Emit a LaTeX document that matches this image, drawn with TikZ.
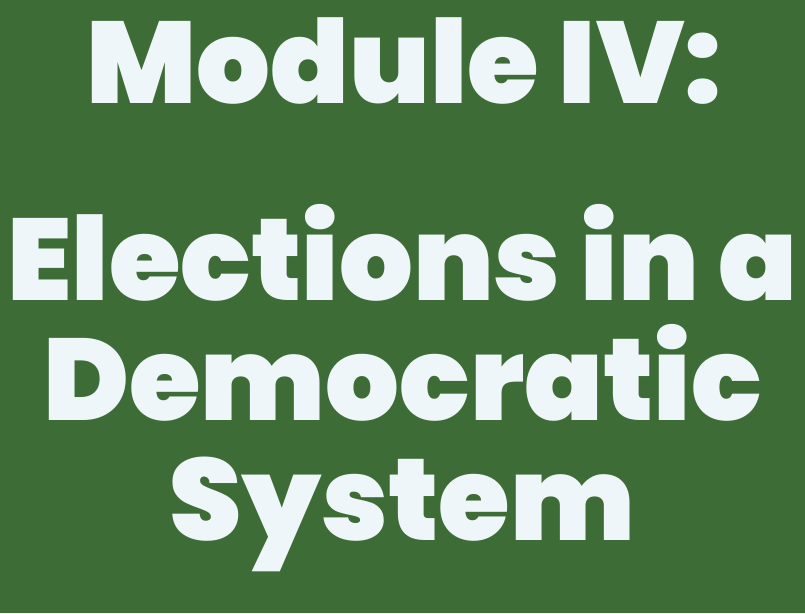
\documentclass[tikz,border=0pt]{standalone}
\usepackage{fontspec}
\setmainfont{Poppins}[UprightFont=* Bold]
\definecolor{bg}{HTML}{3E6C37}
\definecolor{fg}{HTML}{EEF6F9}
\begin{document}
\begin{tikzpicture}[x=1pt,y=-1pt,
  title/.style={anchor=base,text=fg,font=\fontsize{116}{116}\selectfont\bfseries,inner sep=0pt}]
\fill[bg] (0,0) rectangle (805,613);
\useasboundingbox (0,0) rectangle (805,613);
\node[title] (l1) at (404,103) {Module IV:};
\node[title] (l2) at (402.5,300) {Elections in a};
\node[title] (l3) at (402.5,420) {Democratic};
\node[title] (l4) at (402.5,540) {System};
\end{tikzpicture}
\end{document}
